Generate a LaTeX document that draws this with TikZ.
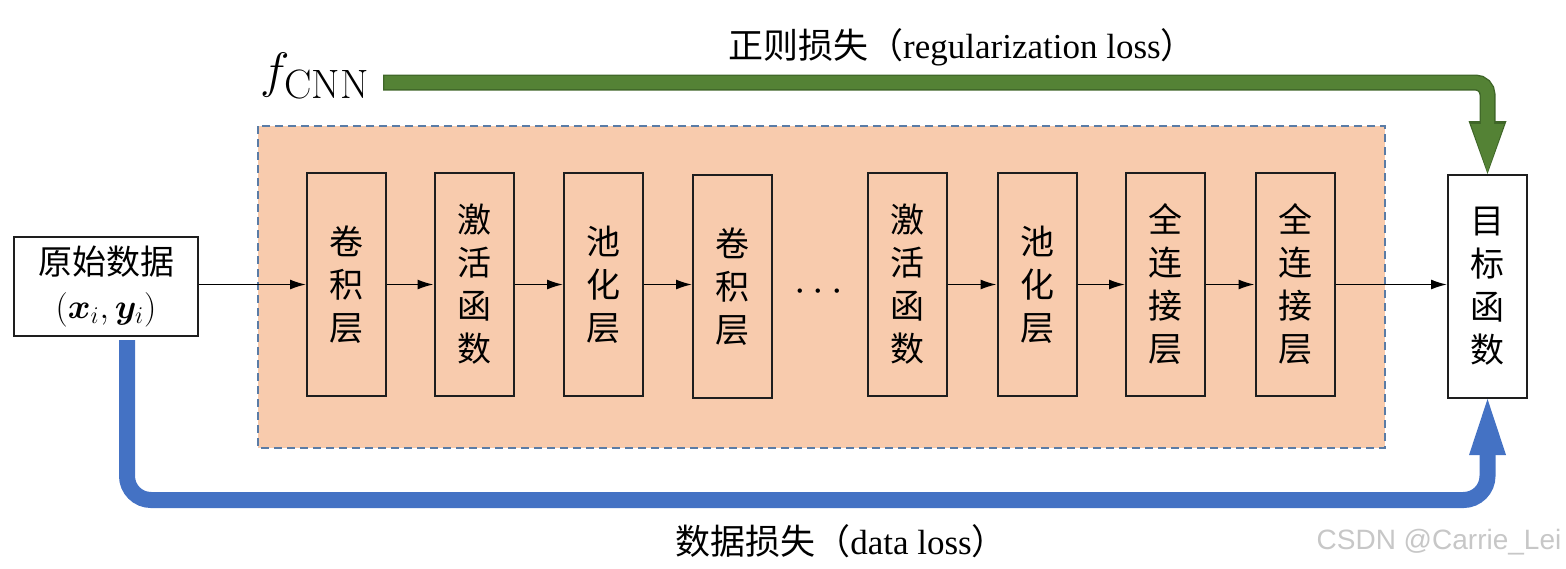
\documentclass[tikz,border=0pt]{standalone}
\usepackage{fontspec}
\usepackage{amsmath}
\usepackage{bm}
\usetikzlibrary{arrows.meta}
\newfontfamily\cjk{Noto Sans CJK SC}
\newfontfamily\tms{Liberation Serif}
\newfontfamily\wmfont{Liberation Sans}
\definecolor{peach}{HTML}{F8CBAD}
\definecolor{dashblue}{HTML}{5A7CA6}
\definecolor{lossgreen}{HTML}{548235}
\definecolor{lossgreendark}{HTML}{3F6628}
\definecolor{lossblue}{HTML}{4472C4}
\definecolor{boxline}{HTML}{1E1E1E}
\begin{document}
\begin{tikzpicture}[x=0.5pt,y=-0.5pt,
  layer/.style={draw=boxline, line width=1pt, minimum width=39.5pt, minimum height=111.5pt,
    inner sep=0pt, align=center, font=\cjk\fontsize{17}{21.5}\selectfont},
  flow/.style={draw=black, line width=0.75pt, -{Latex[length=8pt,width=5pt]}},
  losstext/.style={inner sep=0pt, font=\fontsize{17.5}{20}\selectfont}
]
\useasboundingbox (0,0) rectangle (1566,568);
% network background
\draw[dashblue, fill=peach, line width=0.9pt, dash pattern=on 4pt off 2.5pt] (258,126) rectangle (1385,448);

% input
\node[draw=boxline, line width=1pt, minimum width=92pt, minimum height=49.5pt, inner sep=0pt,
  align=center, font=\fontsize{17}{22}\selectfont] (in) at (106,286.5)
  {{\cjk 原始数据}\\{\fontsize{18.5}{22}\selectfont$(\bm{x}_i,\bm{y}_i)$}};

% layers
\node[layer] (b1) at (346.5,284.5) {卷\\积\\层};
\node[layer] (b2) at (474,284.5) {激\\活\\函\\数};
\node[layer] (b3) at (603.5,284.5) {池\\化\\层};
\node[layer] (b4) at (732.5,286.5) {卷\\积\\层};
\node[inner sep=0pt] (dots) at (822,292) {\fontsize{22}{22}\selectfont$\cdots$};
\node[layer] (b5) at (907.5,284.5) {激\\活\\函\\数};
\node[layer] (b6) at (1037,284.5) {池\\化\\层};
\node[layer] (b7) at (1165.5,284.5) {全\\连\\接\\层};
\node[layer] (b8) at (1295,284.5) {全\\连\\接\\层};
\node[layer, fill=white] (tgt) at (1487.5,286.5) {目\\标\\函\\数};

% flow arrows
\draw[flow] (in.east |- b1.west) -- (b1.west);
\draw[flow] (b1.east) -- (b2.west);
\draw[flow] (b2.east) -- (b3.west);
\draw[flow] (b3.east) -- (b3.east -| b4.west);
\draw[flow] (b5.east) -- (b6.west);
\draw[flow] (b6.east) -- (b7.west);
\draw[flow] (b7.east) -- (b8.west);
\draw[flow] (b8.east) -- (b8.east -| tgt.west);

% f_CNN and regularization loss
\node[anchor=base west, inner sep=0pt] (fcnn) at (260,87)
  {\fontsize{26}{30}\selectfont$f_{\mbox{\fontsize{20.5}{22}\selectfont CNN}}$};
\coordinate (g0) at (383,82.5);
\draw[lossgreendark, line width=8pt, rounded corners=6pt,
  -{Triangle[width=19pt,length=26.5pt,line width=0pt]}]
  (g0) -- (g0 -| tgt) -- (tgt.north);
\draw[lossgreen, line width=6.6pt, rounded corners=6pt, shorten <=0.7pt,
  -{Triangle[width=16.6pt,length=24pt,line width=0pt]}, shorten >=1pt]
  (g0) -- (g0 -| tgt) -- (tgt.north);
\node[losstext] (reg) at (962,47) {{\cjk 正则损失（}{\tms regularization loss}{\cjk ）}};

% data loss
\coordinate (b0) at (127,340);
\coordinate (blow) at (0,500);
\draw[lossblue, line width=8pt, rounded corners=12pt,
  -{Triangle[width=18.5pt,length=28pt,line width=0pt]}]
  (b0) -- (b0 |- blow) -- (tgt |- blow) -- (tgt.south);
\node[losstext] (dat) at (841,541) {{\cjk 数据损失（}{\tms data loss}{\cjk ）}};

% watermark
\node[inner sep=0pt, text=black!22, font=\wmfont\fontsize{14}{14}\selectfont] (wm) at (1439,542) {CSDN @Carrie\_Lei};
\end{tikzpicture}
\end{document}
